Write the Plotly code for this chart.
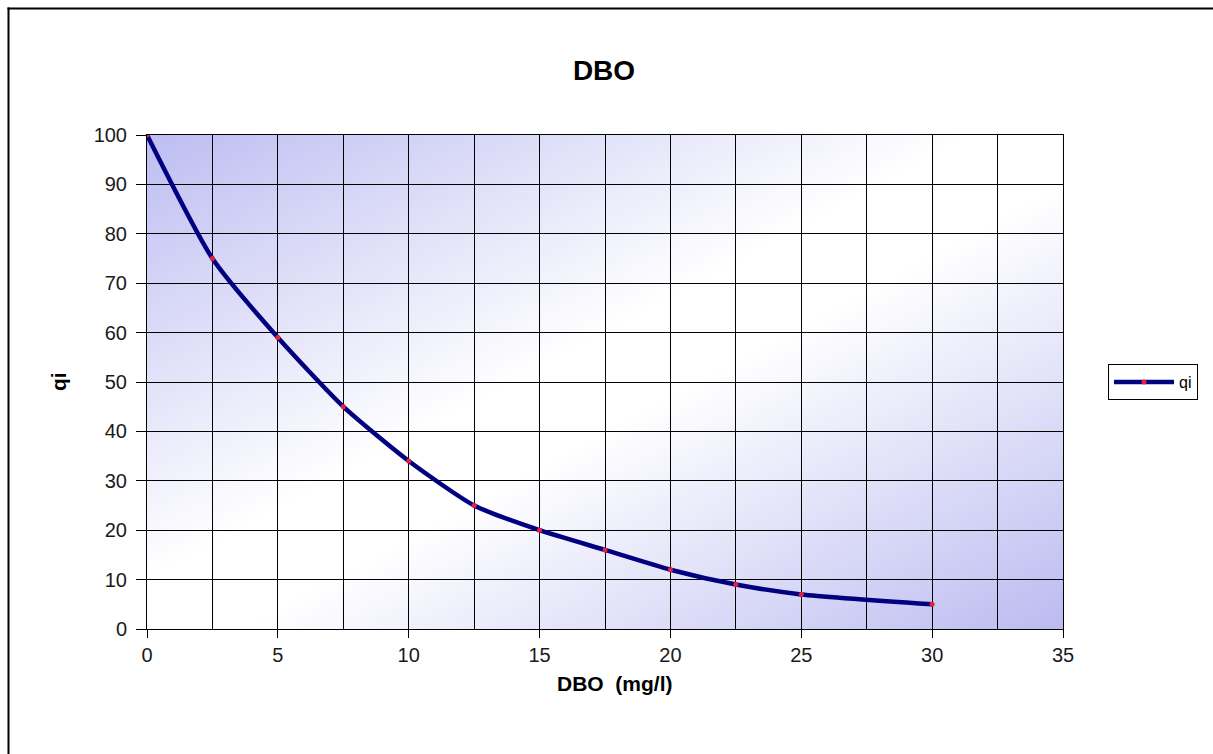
import base64
import plotly.graph_objects as go

# Data
dbo_mg_l = [0, 2.5, 5, 7.5, 10, 12.5, 15, 17.5, 20, 22.5, 25, 30]
qi_values = [100, 75, 59, 45, 34, 25, 20, 16, 12, 9, 7, 5]
x_ticks = [0, 5, 10, 15, 20, 25, 30, 35]
y_ticks = [0, 10, 20, 30, 40, 50, 60, 70, 80, 90, 100]

OFF = 0  # body margin removed via post_script
W, H = 1213, 754
L, R, T, B = 147, 1063, 135, 629

svg = (
    '<svg xmlns="http://www.w3.org/2000/svg" width="916" height="494" '
    'viewBox="0 0 916 494" preserveAspectRatio="none">'
    '<defs><linearGradient id="g" x1="0" y1="0" x2="1" y2="1">'
    '<stop offset="0" stop-color="#bdbdf2"/>'
    '<stop offset="0.45" stop-color="#ffffff"/>'
    '<stop offset="0.55" stop-color="#ffffff"/>'
    '<stop offset="1" stop-color="#bbbbf1"/>'
    '</linearGradient></defs>'
    '<rect x="0" y="0" width="916" height="494" fill="url(#g)"/></svg>'
)
src = "data:image/svg+xml;base64," + base64.b64encode(svg.encode()).decode()

fig = go.Figure()
fig.add_trace(go.Scatter(
    x=dbo_mg_l, y=qi_values, name="qi", mode="lines+markers",
    line=dict(color="#000080", width=4.5, shape="spline", smoothing=0.6),
    marker=dict(color="#e8203a", size=5),
))

font_family = "Liberation Sans, Arial, sans-serif"

# helpers take page pixel coordinates
def px_x(px):
    return (px - OFF - L) / (R - L)

def px_y(py):
    return (B - (py - OFF)) / (B - T)

fig.update_layout(
    width=W, height=H,
    margin=dict(l=L, r=W - R, t=T, b=H - B),
    paper_bgcolor="white",
    plot_bgcolor="rgba(0,0,0,0)",
    font=dict(family=font_family, color="black", size=18),
    title=dict(text="<b>DBO</b>", x=(604 - OFF) / W, xanchor="center",
               y=1 - (70 - OFF) / H, yanchor="middle",
               font=dict(size=28, family=font_family, color="black")),
    showlegend=True,
    legend=dict(x=px_x(1108), y=px_y(382), xanchor="left", yanchor="middle",
                bordercolor="black", borderwidth=1, bgcolor="white",
                itemwidth=60,
                font=dict(size=16, family=font_family)),
    images=[dict(source=src, xref="paper", yref="paper", x=0, y=1,
                 sizex=1, sizey=1, xanchor="left", yanchor="top",
                 sizing="stretch", layer="below")],
    annotations=[
        dict(text="<b>DBO\u00a0 (mg/l)</b>", xref="paper", yref="paper",
             x=px_x(615), y=px_y(683), xanchor="center", yanchor="middle",
             showarrow=False, font=dict(size=21, family=font_family)),
        dict(text="<b>qi</b>", xref="paper", yref="paper",
             x=px_x(58), y=px_y(382), xanchor="center", yanchor="middle",
             showarrow=False, textangle=-90,
             font=dict(size=21, family=font_family)),
    ],
    shapes=[
        dict(type="line", xref="paper", yref="paper",
             x0=px_x(8.5), x1=px_x(8.5), y0=px_y(7.5), y1=px_y(800),
             line=dict(color="black", width=2)),
        dict(type="line", xref="paper", yref="paper",
             x0=px_x(7.5), x1=px_x(1300), y0=px_y(8.5), y1=px_y(8.5),
             line=dict(color="black", width=2)),
    ],
)

fig.update_xaxes(
    range=[0, 35], tickvals=x_ticks, ticktext=[str(v) for v in x_ticks],
    showgrid=True, gridcolor="black", gridwidth=1,
    minor=dict(dtick=2.5, tick0=0, showgrid=True, gridcolor="black", gridwidth=1),
    showline=True, linecolor="black", linewidth=1, mirror=True,
    ticks="outside", ticklen=8, tickcolor="black",
    zeroline=False, tickfont=dict(size=20, color="#1a1a1a"),
)
fig.update_yaxes(
    range=[0, 100], tickvals=y_ticks, ticktext=[str(v) for v in y_ticks],
    showgrid=True, gridcolor="black", gridwidth=1,
    showline=True, linecolor="black", linewidth=1, mirror=True,
    ticks="outside", ticklen=10, tickcolor="black", ticklabelstandoff=5,
    zeroline=False, tickfont=dict(size=20, color="#1a1a1a"),
)

fig.write_html(
    "out.html",
    config={"displayModeBar": False},
    post_script="document.body.style.margin='0';document.body.style.overflow='hidden';",
)
